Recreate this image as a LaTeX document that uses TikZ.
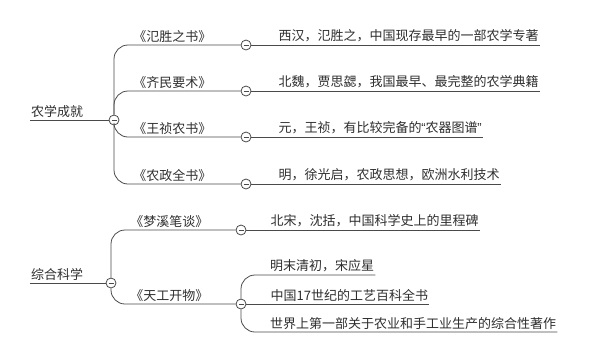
\documentclass[tikz,border=0pt]{standalone}
\usepackage{fontspec}
\setmainfont{Noto Sans CJK SC}
\newfontfamily\quotefont{Liberation Sans}
\newcommand\narrowq[1]{\makebox[4pt]{\quotefont #1}}
\usetikzlibrary{positioning}
\definecolor{linegray}{HTML}{4A4A4A}
\definecolor{textgray}{HTML}{2E2E2E}
\tikzset{
  toggle/.style={circle, draw=linegray, fill=white, line width=0.8pt,
    minimum size=10pt, inner sep=0pt,
    path picture={\draw[linegray, line width=0.8pt]
      ([xshift=-2.5pt]path picture bounding box.center) --
      ([xshift=2.5pt]path picture bounding box.center);}},
  topic/.style={text=textgray, font=\fontsize{13}{15}\selectfont,
    inner xsep=1pt, inner ysep=2.5pt},
  link/.style={draw=linegray, line width=0.8pt, rounded corners=14pt}
}

\begin{document}
\begin{tikzpicture}[x=1pt, y=-1pt]
    \useasboundingbox (0,0) rectangle (612,357);

    % First root and its toggles
    \node[toggle] (c1) at (114,120) {};
    \node[topic, anchor=south west] (r1) at (30,120) {农学成就};
    \node[toggle] (b11) at (246,45) {};
    \node[toggle] (b12) at (246,91) {};
    \node[toggle] (b13) at (246,137) {};
    \node[toggle] (b14) at (246,184) {};

    % Book titles
    \node[topic, above left=0pt and 28pt of b11.west] (s11) {《氾胜之书》};
    \node[topic, above left=0pt and 28pt of b12.west] (s12) {《齐民要术》};
    \node[topic, above left=0pt and 28pt of b13.west] (s13) {《王祯农书》};
    \node[topic, above left=0pt and 28pt of b14.west] (s14) {《农政全书》};

    % Notes on the books
    \node[topic, above right=0pt and 26pt of b11.east] (l11) {西汉，氾胜之，中国现存最早的一部农学专著};
    \node[topic, above right=0pt and 26pt of b12.east] (l12) {北魏，贾思勰，我国最早、最完整的农学典籍};
    \node[topic, above right=0pt and 26pt of b13.east] (l13) {元，王祯，有比较完备的\narrowq{“}农器图谱\narrowq{”}};
    \node[topic, above right=0pt and 26pt of b14.east] (l14) {明，徐光启，农政思想，欧洲水利技术};

    % Connectors of the first root
    \draw[link] (r1.south west) -- (c1.west);
    \draw[link] (c1.north) |- (b11.west);
    \draw[link] (c1.north) |- (b12.west);
    \draw[link] (c1.south) |- (b13.west);
    \draw[link] (c1.south) |- (b14.west);
    \draw[link] (b11.east) -- (l11.south east);
    \draw[link] (b12.east) -- (l12.south east);
    \draw[link] (b13.east) -- (l13.south east);
    \draw[link] (b14.east) -- (l14.south east);

    % Second root and its toggles
    \node[toggle] (c2) at (111,283) {};
    \node[topic, anchor=south west] (r2) at (30,283) {综合科学};
    \node[toggle] (b21) at (241,230) {};
    \node[toggle] (b22) at (241,304) {};
    \node[topic, above left=0pt and 26pt of b21.west] (s21) {《梦溪笔谈》};
    \node[topic, above left=0pt and 26pt of b22.west] (s22) {《天工开物》};
    \node[topic, above right=0pt and 23pt of b21.east] (l21) {北宋，沈括，中国科学史上的里程碑};
    \node[topic, anchor=south west] (l22a) at (269,275) {明末清初，宋应星};
    \node[topic, above right=0pt and 23pt of b22.east] (l22b) {中国17世纪的工艺百科全书};
    \node[topic, anchor=south west] (l22c) at (269,332) {世界上第一部关于农业和手工业生产的综合性著作};

    % Connectors of the second root
    \draw[link] (r2.south west) -- (c2.west);
    \draw[link] (c2.north) |- (b21.west);
    \draw[link] (c2.south) |- (b22.west);
    \draw[link] (b21.east) -- (l21.south east);
    \draw[link] (b22.north) |- (l22a.south east);
    \draw[link] (b22.east) -- (l22b.south east);
    \draw[link] (b22.south) |- (l22c.south east);
\end{tikzpicture}
\end{document}
